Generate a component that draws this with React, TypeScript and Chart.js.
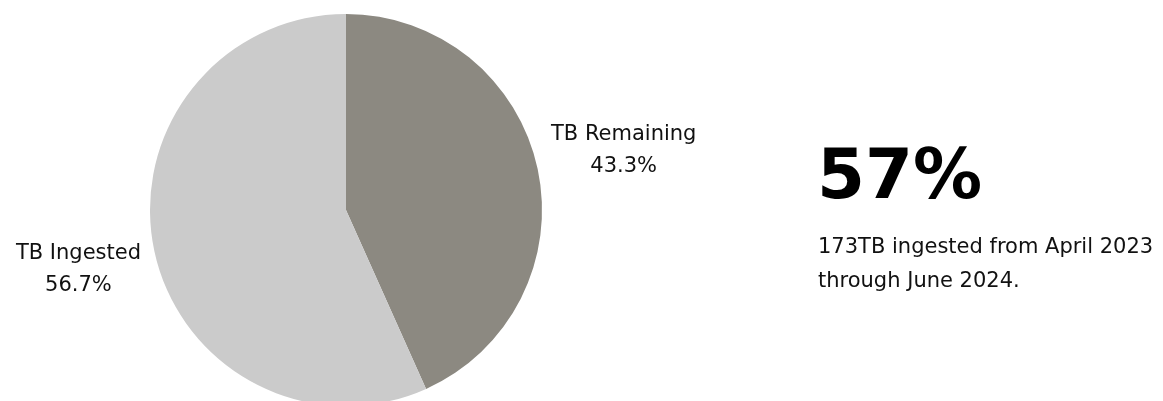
import React, { useEffect, useRef } from "react";
import { Chart, registerables } from "chart.js";

Chart.register(...registerables);

const categories = ["TB Remaining", "TB Ingested"];
const percentValues = [43.3, 56.7];
const sliceColors = ["#8c8981", "#cbcbcb"];
const headline = "57%";
const subtextLines = ["173TB ingested from April 2023", "through June 2024."];

const FONT = "'DejaVu Sans', sans-serif";

const labelPlugin = {
  id: "sliceLabels",
  afterDatasetsDraw(chart: any) {
    const ctx = chart.ctx;
    const meta = chart.getDatasetMeta(0);
    ctx.save();
    ctx.font = `21px ${FONT}`;
    ctx.fillStyle = "#111";
    ctx.textAlign = "center";
    ctx.textBaseline = "middle";
    meta.data.forEach((arc: any, i: number) => {
      const { x, y, startAngle, endAngle, outerRadius } = arc.getProps(
        ["x", "y", "startAngle", "endAngle", "outerRadius"],
        true
      );
      const mid = (startAngle + endAngle) / 2;
      const lines = [categories[i], percentValues[i].toFixed(1) + "%"];
      const w = Math.max(...lines.map((l) => ctx.measureText(l).width));
      const dir = Math.cos(mid) >= 0 ? 1 : -1;
      const cx = x + dir * (outerRadius + 9 + w / 2);
      const cy = y + Math.sin(mid) * (outerRadius + 88);
      ctx.fillText(lines[0], cx, cy - 16);
      ctx.fillText(lines[1], cx, cy + 16);
    });
    ctx.restore();
  },
};

export default function App() {
  const ref = useRef<HTMLCanvasElement>(null);
  useEffect(() => {
    document.body.style.margin = "0";
    document.body.style.overflow = "hidden";
    const chart = new Chart(ref.current!, {
      type: "pie",
      data: {
        labels: categories,
        datasets: [
          {
            data: percentValues,
            backgroundColor: sliceColors,
            borderWidth: 0,
          },
        ],
      },
      options: {
        responsive: false,
        animation: false,
        layout: { padding: { left: 150, right: 621, top: 14, bottom: 14 } },
        plugins: { legend: { display: false }, tooltip: { enabled: false } },
      },
      plugins: [labelPlugin],
    });
    return () => chart.destroy();
  }, []);
  return (
    <div style={{ position: "relative", width: 1163, height: 401, overflow: "hidden", background: "#fff" }}>
      <canvas ref={ref} width={1163} height={420} style={{ position: "absolute", left: 0, top: 0 }} />
      <div
        style={{
          position: "absolute",
          left: 817,
          top: 124,
          fontFamily: FONT,
          fontWeight: 700,
          fontSize: 69,
          lineHeight: "100px",
          color: "#000",
        }}
      >
        {headline}
      </div>
      <div
        style={{
          position: "absolute",
          left: 818,
          top: 229,
          fontFamily: FONT,
          fontSize: 21,
          lineHeight: "34px",
          color: "#111",
        }}
      >
        {subtextLines.map((l, i) => (
          <div key={i}>{l}</div>
        ))}
      </div>
    </div>
  );
}
